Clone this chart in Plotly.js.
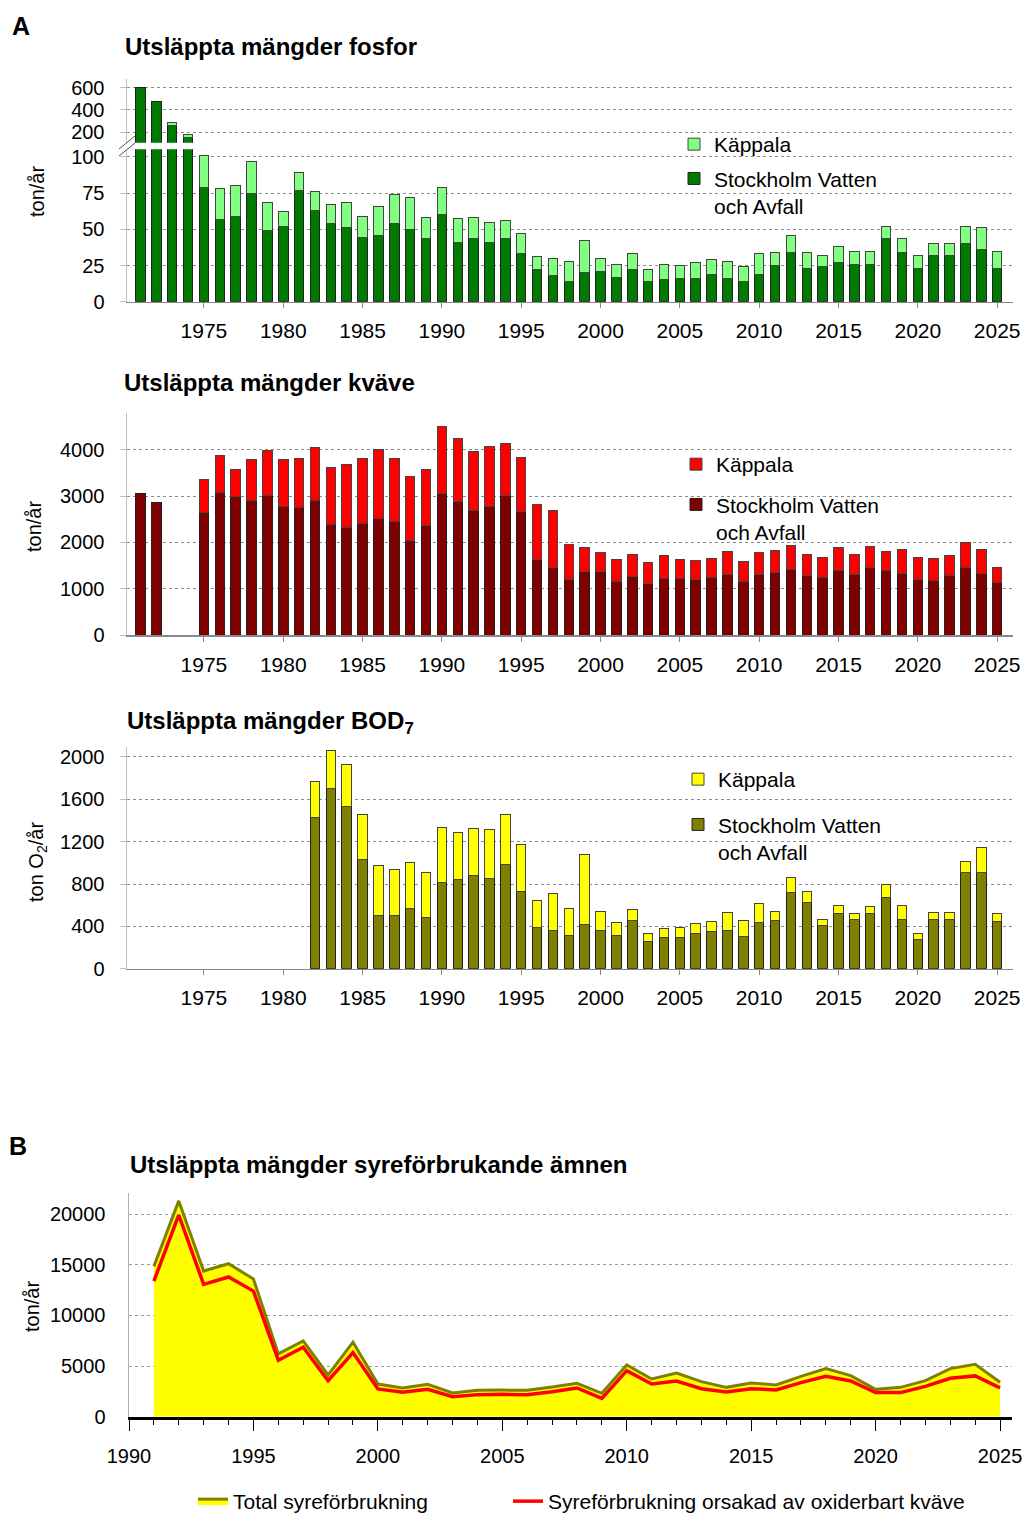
<!DOCTYPE html>
<html>
<head>
<meta charset="utf-8">
<script src="https://cdn.plot.ly/plotly-3.0.1.min.js"></script>
<style>html,body{margin:0;padding:0;background:#fff;}#chart{width:1024px;height:1515px;}</style>
</head>
<body>
<div id="chart"></div>
<script>
// ---------- DATA ----------
const years = [1971,1972,1973,1974,1975,1976,1977,1978,1979,1980,1981,1982,1983,1984,1985,1986,1987,1988,1989,1990,
  1991,1992,1993,1994,1995,1996,1997,1998,1999,2000,2001,2002,2003,2004,2005,2006,2007,2008,2009,2010,
  2011,2012,2013,2014,2015,2016,2017,2018,2019,2020,2021,2022,2023,2024,2025];
const xTickYears = [1975,1980,1985,1990,1995,2000,2005,2010,2015,2020,2025];

// Fosfor (ton/år)
const fosforSVOA = [603,476,257,151,79,57,59,75,49,52,77,63,54,51,44.6,45.7,54,50,44,60,
  41,44,41,44,33,22,18,14,20,21,17,22,14,15,16,16,19,16,14,19,
  25,34,23,24,27,26,26,44,34,23,32,32,40,36,23];
const fosforKappala = [null,null,29,25,22,21,21,22,19.5,10,12,13,13,17.5,14,20.3,20,22,14,19,
  16.5,14,14,12,14,9,12,14,22,9,9,11,8,11,9,11,10,12,10,14,
  9,12,11,8,11,9,9,8,10,9,8,8,12,15,12];

// Kväve (ton/år)
const kvaveSVOA = [3046,2866,null,null,2644,3082,2996,2895,3010,2780,2751,2895,2378,2320,2414,2507,2443,2047,2356,3053,
  2888,2694,2780,3010,2672,1638,1451,1207,1379,1379,1149,1272,1121,1228,1228,1207,1250,1315,1149,1315,
  1358,1415,1279,1250,1401,1300,1466,1401,1336,1200,1185,1279,1466,1336,1135];
const kvaveKappala = [null,null,null,null,711,797,567,898,970,1006,1049,1142,1243,1358,1401,1502,1357,1380,1222,1437,
  1343,1264,1286,1128,1150,1178,1236,754,518,410,482,459,438,482,403,409,409,488,431,459,
  460,525,467,424,496,446,452,402,503,474,474,431,524,510,331];

// BOD7 (ton O2/år)
const bodSVOA = [null,null,null,null,null,null,null,null,null,null,null,1427,1701,1534,1036,507,498,564,485,816,
  841,879,854,989,731,387,365,309,419,365,315,454,255,296,296,328,350,365,306,438,
  460,724,627,409,523,466,517,674,466,277,466,466,907,907,444];
const bodKappala = [null,null,null,null,null,null,null,null,null,null,null,346,359,394,422,466,437,438,428,519,
  447,447,463,469,438,259,347,261,658,174,120,103,82,88,95,97,97,164,154,176,
  79,133,101,57,75,54,69,120,132,60,69,63,107,239,76];

// Syreförbrukande ämnen (ton/år)
const yearsB = [1991,1992,1993,1994,1995,1996,1997,1998,1999,2000,2001,2002,2003,2004,2005,2006,2007,2008,2009,2010,
  2011,2012,2013,2014,2015,2016,2017,2018,2019,2020,2021,2022,2023,2024,2025];
const totalSyre = [14850,21320,14390,15115,13600,6200,7490,4125,7360,3230,2840,3200,2340,2610,2630,2610,2940,3300,2310,5115,
  3730,4320,3465,2900,3330,3135,3990,4750,4060,2700,2900,3560,4750,5180,3400];
const kvaveSyre = [13400,19930,13070,13800,12410,5580,6860,3560,6340,2740,2410,2700,1980,2180,2210,2180,2475,2840,1815,4550,
  3230,3530,2770,2440,2770,2640,3370,3990,3530,2380,2380,3000,3800,4030,2840];
const xTickYearsB = [1990,1995,2000,2005,2010,2015,2020,2025];

const nameKap = 'Käppala';
const nameSV = 'Stockholm Vatten<br>och Avfall';

// ---------- HELPERS ----------
const H = 1515, W = 1024;
const py = Y => 1 - Y / H;
const px = X => X / W;
const FONT = 'Arial, "Liberation Sans", Helvetica, sans-serif';

function barPair(dark, light, cDark, cLight, xa, ya, leg, show) {
  const common = {type:'bar', x: years, xaxis: xa, yaxis: ya, width: 0.6, hoverinfo:'skip', legend: leg, showlegend: show};
  return [
    Object.assign({}, common, {y: dark, name: nameSV, legendgroup: leg+'sv', legendrank: 2,
      marker:{color:cDark, line:{color:'#222', width:1}}}),
    Object.assign({}, common, {y: light, name: nameKap, legendgroup: leg+'kap', legendrank: 1,
      marker:{color:cLight, line:{color:'#444', width:1}}})
  ];
}

const traces = [
  ...barPair(fosforSVOA, fosforKappala, '#007A00', '#80FF80', 'x', 'y', 'legend', true),
  ...barPair(fosforSVOA, fosforKappala, '#007A00', '#80FF80', 'x', 'y2', 'legend', false),
  ...barPair(kvaveSVOA, kvaveKappala, '#800000', '#FF0000', 'x2', 'y3', 'legend2', true),
  ...barPair(bodSVOA, bodKappala, '#808000', '#FFFF00', 'x3', 'y4', 'legend3', true),
  {type:'scatter', mode:'lines', x: yearsB, y: totalSyre, xaxis:'x4', yaxis:'y5', fill:'tozeroy', fillcolor:'#FFFF00',
   line:{color:'#808000', width:3}, name:'Total syreförbrukning', legend:'legend4', hoverinfo:'skip'},
  {type:'scatter', mode:'lines', x: yearsB, y: kvaveSyre, xaxis:'x4', yaxis:'y5',
   line:{color:'#FF0000', width:3.5}, name:'Syreförbrukning orsakad av oxiderbart kväve', legend:'legend5', hoverinfo:'skip'}
];

const xDomA = [px(127), px(1013)];
const xRangeA = [1970.15, 2026.0];
function xA(anchor) {
  return {domain: xDomA, range: xRangeA, anchor: anchor, tickmode:'array', tickvals: xTickYears,
    ticks:'outside', ticklen:5, tickcolor:'#888', showline:true, linecolor:'#888', linewidth:1.5,
    showgrid:false, zeroline:false, tickfont:{size:21, color:'#000'}, ticklabelstandoff:5, fixedrange:true};
}
function yA(domain, range, tickvals, anchor) {
  return {domain: domain, range: range, anchor: anchor, tickmode:'array', tickvals: tickvals,
    showgrid:true, gridcolor:'#8a8a8a', griddash:'dot', gridwidth:1, showline:true, linecolor:'#c0c0c0', linewidth:1.5,
    ticks:'outside', ticklen:6, tickcolor:'#c0c0c0', zeroline:false, tickfont:{size:20, color:'#000'},
    ticklabelstandoff:11, fixedrange:true};
}

const legBase = {bgcolor:'rgba(0,0,0,0)', font:{size:21, color:'#000', family:FONT}, xanchor:'left', yanchor:'top',
  traceorder:'grouped', valign:'top', itemwidth:30};

const layout = {
  width: W, height: H, margin:{l:0, r:0, t:0, b:0, pad:0, autoexpand:false},
  paper_bgcolor:'#fff', plot_bgcolor:'rgba(0,0,0,0)',
  font:{family: FONT, color:'#000'}, barmode:'stack', bargap:0.4, showlegend:true,
  xaxis: xA('y'),
  yaxis: yA([py(301.7), py(149.3)], [0, 105.3], [0,25,50,75,100], 'x'),
  yaxis2: yA([py(142.7), py(79)], [106, 678], [200,400,600], 'x'),
  xaxis2: xA('y3'),
  yaxis3: yA([py(635.3), py(413.3)], [0, 4784], [0,1000,2000,3000,4000], 'x2'),
  xaxis3: xA('y4'),
  yaxis4: yA([py(968.7), py(746.7)], [0, 2097], [0,400,800,1200,1600,2000], 'x3'),
  xaxis4: {domain:[px(129), px(1012)], range:[1990, 2025.48], anchor:'y5', tickmode:'array', tickvals: xTickYearsB,
    ticks:'outside', ticklen:11, tickcolor:'#000', tickwidth:1, showline:true, linecolor:'#000', linewidth:3,
    minor:{tickmode:'linear', tick0:1990, dtick:1, ticks:'outside', ticklen:5, tickcolor:'#000', tickwidth:1},
    showgrid:false, zeroline:false, tickfont:{size:20, color:'#000'}, ticklabelstandoff:8, fixedrange:true},
  yaxis5: {domain:[py(1416.7), py(1193)], range:[0, 22100], anchor:'x4', tickmode:'array', tickvals:[0,5000,10000,15000,20000],
    tickformat:'d',
    showgrid:true, gridcolor:'#9a9a9a', griddash:'dot', gridwidth:1, showline:true, linecolor:'#b0b0b0', linewidth:1.5,
    ticks:'', zeroline:false, tickfont:{size:20, color:'#000'}, ticklabelstandoff:18, fixedrange:true},
  legend: Object.assign({}, legBase, {x: px(674), y: py(124), tracegroupgap: 4}),
  legend2: Object.assign({}, legBase, {x: px(676), y: py(444), tracegroupgap: 10}),
  legend3: Object.assign({}, legBase, {x: px(678), y: py(759), tracegroupgap: 15}),
  legend4: Object.assign({}, legBase, {x: px(193), y: py(1481), yanchor:'top', valign:'middle'}),
  legend5: Object.assign({}, legBase, {x: px(508), y: py(1481), yanchor:'top', valign:'middle'}),
  annotations: [
    {text:'<b>A</b>', x: px(10), y: py(26), xref:'paper', yref:'paper', xanchor:'left', yanchor:'middle', showarrow:false, font:{size:25}},
    {text:'<b>B</b>', x: px(7), y: py(1146), xref:'paper', yref:'paper', xanchor:'left', yanchor:'middle', showarrow:false, font:{size:25}},
    {text:'<b>Utsläppta mängder fosfor</b>', x: px(123), y: py(47), xref:'paper', yref:'paper', xanchor:'left', yanchor:'middle', showarrow:false, font:{size:24}},
    {text:'<b>Utsläppta mängder kväve</b>', x: px(122), y: py(382), xref:'paper', yref:'paper', xanchor:'left', yanchor:'middle', showarrow:false, font:{size:24}},
    {text:'<b>Utsläppta mängder BOD<sub>7</sub></b>', x: px(125), y: py(722), xref:'paper', yref:'paper', xanchor:'left', yanchor:'middle', showarrow:false, font:{size:24}},
    {text:'<b>Utsläppta mängder syreförbrukande ämnen</b>', x: px(128), y: py(1164), xref:'paper', yref:'paper', xanchor:'left', yanchor:'middle', showarrow:false, font:{size:24}},
    {text:'ton/år', x: px(37), y: py(192), xref:'paper', yref:'paper', xanchor:'center', yanchor:'middle', textangle:-90, showarrow:false, font:{size:20}},
    {text:'ton/år', x: px(34), y: py(527), xref:'paper', yref:'paper', xanchor:'center', yanchor:'middle', textangle:-90, showarrow:false, font:{size:20}},
    {text:'ton O<sub>2</sub>/år', x: px(37), y: py(862), xref:'paper', yref:'paper', xanchor:'center', yanchor:'middle', textangle:-90, showarrow:false, font:{size:20}},
    {text:'ton/år', x: px(32), y: py(1307), xref:'paper', yref:'paper', xanchor:'center', yanchor:'middle', textangle:-90, showarrow:false, font:{size:20}}
  ],
  shapes: [
    {type:'line', xref:'paper', yref:'paper', x0: px(119), y0: py(156), x1: px(135), y1: py(143), line:{color:'#555', width:1}},
    {type:'line', xref:'paper', yref:'paper', x0: px(119), y0: py(149), x1: px(135), y1: py(136), line:{color:'#555', width:1}}
  ]
};

Plotly.newPlot('chart', traces, layout, {staticPlot:true, displayModeBar:false});
</script>
</body>
</html>
